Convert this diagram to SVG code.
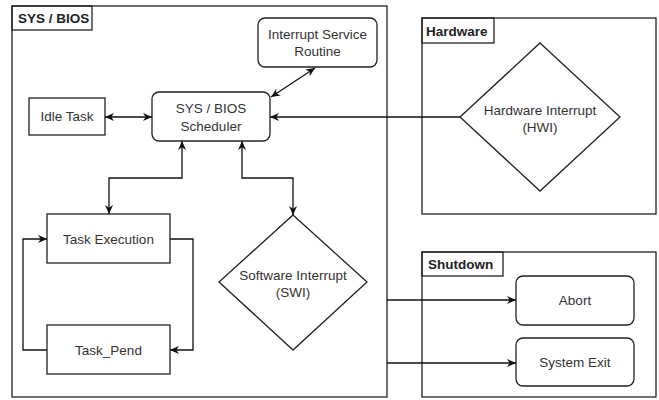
<svg xmlns="http://www.w3.org/2000/svg" width="659" height="400" viewBox="0 0 659 400">
<defs>
<marker id="arr" viewBox="0 0 10 10" refX="10" refY="5" markerWidth="9" markerHeight="9" markerUnits="userSpaceOnUse" orient="auto-start-reverse">
<path d="M0,0.5 L10,5 L0,9.5 L3,5 Z" fill="#111"/>
</marker>
</defs>
<style>
.box{fill:#fff;stroke:#222;stroke-width:1.3}
.cont{fill:none;stroke:#222;stroke-width:1.3}
.t{font-family:"Liberation Sans",Arial,sans-serif;font-size:13.5px;fill:#333;text-anchor:middle}
.h{font-family:"Liberation Sans",Arial,sans-serif;font-size:13.5px;font-weight:bold;fill:#222}
.c{fill:none;stroke:#111;stroke-width:1.3}
</style>
<rect width="659" height="400" fill="#fff"/>
<g id="sysbios">
<rect class="cont" x="12" y="6" width="375" height="391"/>
<rect class="cont" x="12" y="6" width="80" height="24"/>
<text class="h" x="18" y="23">SYS / BIOS</text>
</g>
<g id="hardware">
<rect class="cont" x="422" y="18" width="234" height="196"/>
<rect class="cont" x="422" y="18" width="72" height="25"/>
<text class="h" x="426" y="36">Hardware</text>
</g>
<g id="shutdown">
<rect class="cont" x="422" y="252" width="234" height="145"/>
<rect class="cont" x="422" y="252" width="81" height="24"/>
<text class="h" x="428" y="269">Shutdown</text>
</g>
<g id="connectors">
<path class="c" d="M105,117 H152" marker-start="url(#arr)" marker-end="url(#arr)"/>
<path class="c" d="M271,97 L315,68" marker-start="url(#arr)" marker-end="url(#arr)"/>
<path class="c" d="M460,117 H270" marker-end="url(#arr)"/>
<path class="c" d="M182,141 V178 H109 V214" marker-start="url(#arr)" marker-end="url(#arr)"/>
<path class="c" d="M242,141 V178 H293 V215" marker-start="url(#arr)" marker-end="url(#arr)"/>
<path class="c" d="M170,239 H193 V350 H170" marker-end="url(#arr)"/>
<path class="c" d="M47,350 H23 V239 H47" marker-end="url(#arr)"/>
<path class="c" d="M387,300 H516" marker-end="url(#arr)"/>
<path class="c" d="M387,363 H516" marker-end="url(#arr)"/>
</g>
<g id="isr">
<rect class="box" x="258" y="18" width="119" height="49" rx="7"/>
<text class="t" x="317.5" y="39">Interrupt Service</text>
<text class="t" x="317.5" y="56">Routine</text>
</g>
<g id="scheduler">
<rect class="box" x="152" y="92" width="118" height="49" rx="7"/>
<text class="t" x="211" y="113">SYS / BIOS</text>
<text class="t" x="211" y="130.5">Scheduler</text>
</g>
<g id="idle">
<rect class="box" x="29" y="98" width="76" height="37"/>
<text class="t" x="67" y="121">Idle Task</text>
</g>
<g id="hwi">
<polygon class="box" points="540,43 620,117 540,191 460,117"/>
<text class="t" x="540" y="115">Hardware Interrupt</text>
<text class="t" x="540" y="132">(HWI)</text>
</g>
<g id="taskexec">
<rect class="box" x="47" y="214" width="123" height="49"/>
<text class="t" x="108.5" y="243.5">Task Execution</text>
</g>
<g id="taskpend">
<rect class="box" x="47" y="325" width="123" height="49"/>
<text class="t" x="108.5" y="354.5">Task_Pend</text>
</g>
<g id="swi">
<polygon class="box" points="293,215 367,282 293,350 219,282"/>
<text class="t" x="293" y="280">Software Interrupt</text>
<text class="t" x="293" y="297">(SWI)</text>
</g>
<g id="abort">
<rect class="box" x="516" y="276" width="118" height="49" rx="7"/>
<text class="t" x="575" y="305">Abort</text>
</g>
<g id="sysexit">
<rect class="box" x="516" y="338" width="118" height="48" rx="7"/>
<text class="t" x="575" y="366.5">System Exit</text>
</g>
</svg>
